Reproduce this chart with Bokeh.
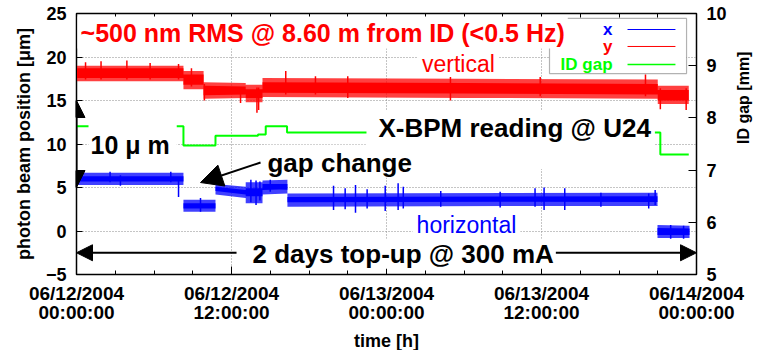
import math
from bokeh.plotting import figure
from bokeh.models import (Range1d, LinearAxis, FixedTicker, Label, Arrow,
                          NormalHead, BoxAnnotation)
from bokeh.embed import file_html
from bokeh.resources import INLINE

# ---- axes: time in hours since 06/12/2004 00:00:00 ----
tick_hours = [0, 12, 24, 36, 48]
tick_labels = ["06/12/2004\n00:00:00", "06/12/2004\n12:00:00",
               "06/13/2004\n00:00:00", "06/13/2004\n12:00:00",
               "06/14/2004\n00:00:00"]
minor_hours = [3, 6, 9, 15, 18, 21, 27, 30, 33, 39, 42, 45]
pos_ticks = [-5, 0, 5, 10, 15, 20, 25]
gap_ticks = [5, 6, 7, 8, 9, 10]

# ---- horizontal beam position x [um]: dense core and outer noise envelope ----
x_t    = [0.0, 8.28, 8.28, 10.76, 10.76, 13.1, 13.1, 14.4, 14.4, 16.33, 16.33, 44.98, 44.98, 47.46]
x_lo   = [5.7, 5.7, 2.6, 2.6, 4.6, 4.2, 4.0, 4.0, 4.7, 4.8, 3.3, 3.4, -0.45, -0.45]
x_hi   = [6.3, 6.3, 3.2, 3.2, 5.1, 4.7, 4.9, 4.9, 5.4, 5.4, 3.9, 4.0, 0.35, 0.3]
x_lo_o = [5.3, 5.3, 2.2, 2.2, 4.2, 3.8, 3.2, 3.2, 4.2, 4.3, 2.8, 2.9, -0.8, -0.8]
x_hi_o = [6.7, 6.7, 3.6, 3.6, 5.4, 5.1, 5.6, 5.6, 5.8, 5.9, 4.3, 4.4, 0.7, 0.6]
# isolated excursions of x
xs_t  = [2.6, 3.4, 7.3, 7.9, 9.6, 13.5, 13.9, 14.2, 15.0, 19.9, 20.8, 21.6, 22.5,
         23.9, 24.9, 25.3, 28.2, 32.8, 35.5, 36.2, 37.8, 40.6, 44.3, 44.8, 46.0, 47.0]
xs_lo = [5.6, 5.2, 5.6, 3.9, 2.2, 3.3, 3.0, 3.5, 4.5, 2.4, 2.5, 2.1, 2.6,
         2.3, 2.4, 2.6, 2.8, 2.7, 2.8, 2.4, 2.4, 2.8, 2.6, 3.0, -0.9, -0.9]
xs_hi = [6.8, 6.4, 6.8, 6.0, 3.8, 5.9, 5.8, 5.7, 5.9, 5.2, 4.9, 5.3, 4.8,
         5.2, 5.5, 5.1, 4.6, 4.5, 4.9, 5.0, 4.9, 4.4, 4.3, 4.7, 0.7, 0.6]

# ---- vertical beam position y [um] ----
y_t    = [0.0, 8.28, 8.28, 9.84, 9.84, 13.1, 13.1, 14.4, 14.4, 30.0, 45.0, 45.0, 47.4]
y_lo   = [17.6, 17.6, 16.8, 16.8, 15.6, 15.7, 15.3, 15.3, 15.9, 15.8, 15.7, 15.0, 15.0]
y_hi   = [18.7, 18.7, 18.0, 18.0, 16.7, 16.6, 16.3, 16.3, 17.1, 17.0, 16.9, 16.2, 16.2]
y_lo_o = [17.2, 17.2, 16.3, 16.3, 15.2, 15.3, 14.8, 14.8, 15.4, 15.3, 15.2, 14.6, 14.6]
y_hi_o = [19.0, 19.0, 18.4, 18.4, 17.1, 17.0, 16.8, 16.8, 17.6, 17.5, 17.4, 16.7, 16.7]
ys_t  = [0.7, 1.9, 3.9, 5.7, 7.9, 8.9, 9.9, 12.7, 13.97, 14.1, 16.2, 18.5, 21.0,
         28.95, 35.9, 44.05, 45.2, 47.2]
ys_lo = [17.4, 17.4, 17.4, 17.4, 17.4, 16.6, 15.0, 14.7, 13.6, 13.9, 15.7, 15.7, 15.3,
         15.0, 15.5, 15.5, 14.0, 13.9]
ys_hi = [19.4, 19.5, 19.6, 19.3, 19.2, 18.7, 16.9, 16.5, 16.5, 16.5, 18.4, 17.8, 17.8,
         17.8, 17.7, 18.0, 16.4, 16.4]

# ---- undulator U24 gap [mm] ----
gap_t = [0.0, 8.28, 10.76, 14.05, 14.65, 16.3, 45.2, 47.4]
gap_v = [7.84, 7.47, 7.66, 7.68, 7.84, 7.72, 7.30, 7.30]

BLUE, RED, GREEN = "#0000ff", "#ff0000", "#00ff00"
FONT = "Liberation Sans"

p = figure(frame_width=620, frame_height=261,
           x_range=Range1d(0, 48), y_range=Range1d(-5, 25),
           output_backend="svg", toolbar_location=None,
           min_border_left=76, min_border_right=79,
           min_border_top=13, min_border_bottom=76)
p.extra_y_ranges = {"gap": Range1d(5, 10)}
p.background_fill_color = "white"
p.border_fill_color = "white"
p.outline_line_color = "black"
p.outline_line_width = 1.5

# grid
p.xgrid.grid_line_color = "#8a8a8a"
p.ygrid.grid_line_color = "#8a8a8a"
p.xgrid.grid_line_dash = "1 2"
p.ygrid.grid_line_dash = "1 2"

def style_axis(ax, size="18px"):
    ax.major_label_text_font = FONT
    ax.major_label_text_font_style = "bold"
    ax.major_label_text_font_size = size
    ax.major_label_text_color = "black"
    ax.axis_label_text_font = FONT
    ax.axis_label_text_font_style = "bold"
    ax.axis_label_text_color = "black"
    ax.axis_line_color = "black"
    ax.major_tick_line_color = "black"
    ax.minor_tick_line_color = "black"
    ax.major_tick_out = 0
    ax.minor_tick_out = 0

xax = p.xaxis[0]
xax.ticker = FixedTicker(ticks=tick_hours, minor_ticks=minor_hours)
xax.major_label_overrides = dict(zip(tick_hours, tick_labels))
style_axis(xax, "19px")
xax.major_tick_in = 8
xax.minor_tick_in = 4
xax.major_label_standoff = 8
xax.major_label_text_line_height = 0.95
xax.axis_label = "time [h]"
xax.axis_label_text_font_size = "18px"
xax.axis_label_standoff = 5

yax = p.yaxis[0]
yax.ticker = FixedTicker(ticks=pos_ticks)
style_axis(yax)
yax.major_tick_in = 6
yax.major_label_standoff = 10
yax.axis_label = "photon beam position [\u03bcm]"
yax.axis_label_text_font_size = "18px"
yax.axis_label_standoff = 9
p.ygrid.ticker = FixedTicker(ticks=pos_ticks)
p.xgrid.ticker = FixedTicker(ticks=tick_hours)

gax = LinearAxis(y_range_name="gap", ticker=FixedTicker(ticks=gap_ticks))
style_axis(gax)
gax.major_tick_in = 8
gax.major_label_standoff = 10
gax.axis_label = "ID gap [mm]"
gax.axis_label_text_font_size = "16px"
gax.axis_label_standoff = 14
gax.axis_label_orientation = math.pi / 2
p.add_layout(gax, "right")

tax = LinearAxis(ticker=FixedTicker(ticks=tick_hours, minor_ticks=minor_hours))
style_axis(tax, "1px")
tax.major_label_overrides = {h: "" for h in tick_hours}
tax.major_tick_in = 8
tax.minor_tick_in = 4
tax.major_label_standoff = 0
p.add_layout(tax, "above")

# data
p.varea(x=y_t, y1=y_lo_o, y2=y_hi_o, color=RED, alpha=0.75)
p.varea(x=y_t, y1=y_lo, y2=y_hi, color=RED)
p.segment(x0=ys_t, y0=ys_lo, x1=ys_t, y1=ys_hi, color=RED, line_width=1.5)
p.varea(x=x_t, y1=x_lo_o, y2=x_hi_o, color=BLUE, alpha=0.75)
p.varea(x=x_t, y1=x_lo, y2=x_hi, color=BLUE)
p.segment(x0=xs_t, y0=xs_lo, x1=xs_t, y1=xs_hi, color=BLUE, line_width=1.5)
p.step(x=gap_t, y=gap_v, mode="after", color=GREEN, line_width=2,
       y_range_name="gap")

def text(x, y, s, size="26px", color="black", style="bold", align="left",
         pad=None):
    lab = Label(x=x, y=y, text=s, text_font=FONT, text_font_style=style,
                text_font_size=size, text_color=color, text_align=align,
                text_baseline="middle")
    if pad is not None:
        lab.background_fill_color = "white"
        lab.padding = pad
    p.add_layout(lab)
    return lab

def arrow(x0, y0, x1, y1, head=16, both=False, color="black", width=2):
    end = NormalHead(size=head, fill_color=color, line_color=color)
    start = NormalHead(size=head, fill_color=color, line_color=color) if both else None
    p.add_layout(Arrow(x_start=x0, y_start=y0, x_end=x1, y_end=y1,
                       start=start, end=end, line_color=color,
                       line_width=width))

# key (drawn first so the heading box overlaps its corner)
p.add_layout(BoxAnnotation(left=36.62, right=47.23, bottom=18.10, top=24.43,
                           fill_color="white", fill_alpha=1.0,
                           line_color="black", line_width=1.2))
for lab_y, name, col in [(23.16, "x", BLUE), (21.21, "y", RED),
                         (19.14, "ID gap", GREEN)]:
    text(41.5, lab_y, name, size="17px", color=col, align="right")
    p.add_layout(Arrow(x_start=42.66, y_start=lab_y, x_end=46.37, y_end=lab_y,
                       start=None, end=None, line_color=col,
                       line_width=1.5 if col == GREEN else 1))

# annotations
text(0.08, 22.82, "~500 nm RMS @ 8.60 m from ID (<0.5 Hz)", size="25px",
     color=RED, pad=dict(top=3, bottom=1, left=3, right=3))
text(29.57, 19.2, "vertical", size="23px", color=RED, style="normal",
     align="center", pad=dict(top=0, bottom=0, left=4, right=4))
text(30.19, 0.69, "horizontal", size="23px", color=BLUE, style="normal",
     align="center", pad=dict(top=0, bottom=0, left=4, right=4))

arrow(0, 5.0, 0, 15.0, head=17, both=True)
text(0.93, 10.06, "10 \u03bc m", size="25px",
     pad=dict(top=7, bottom=4, left=2, right=7))

text(22.45, 10.52, "X-BPM reading @ U24",
     pad=dict(top=3, bottom=26, left=12, right=4))
arrow(14.25, 7.87, 9.6, 5.57, head=22)
text(14.63, 8.01, "gap change", pad=dict(top=3, bottom=0, left=2, right=2))

arrow(0, -2.5, 48, -2.5, head=16, both=True)
text(12.39, -2.62, "2 days top-up @ 300 mA",
     pad=dict(top=0, bottom=0, left=16, right=2))

open("out.html", "w").write(file_html(p, INLINE))
